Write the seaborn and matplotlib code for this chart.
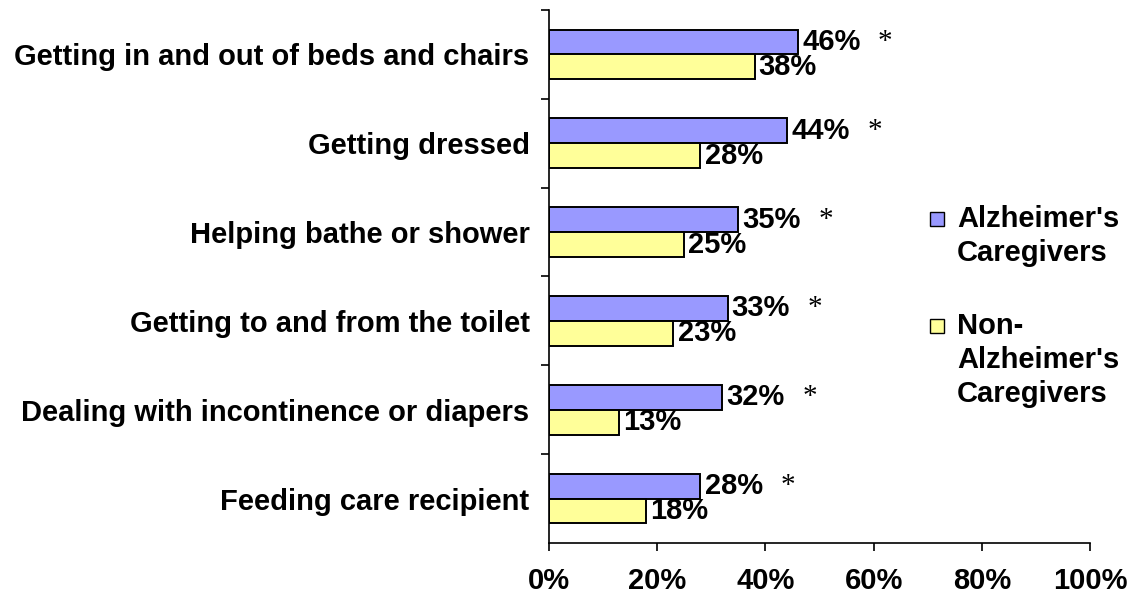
import pandas as pd
import seaborn as sns
import matplotlib.pyplot as plt
from matplotlib.ticker import FixedLocator
from matplotlib.patches import Rectangle

# Dados
tasks = ['Getting in and out of beds and chairs', 'Getting dressed',
         'Helping bathe or shower', 'Getting to and from the toilet',
         'Dealing with incontinence or diapers', 'Feeding care recipient']
alz = [46, 44, 35, 33, 32, 28]
non_alz = [38, 28, 25, 23, 13, 18]
groups = ["Alzheimer's\nCaregivers", "Non-\nAlzheimer's\nCaregivers"]
significant = [True, True, True, True, True, True]
x_ticks = [0, 20, 40, 60, 80, 100]

df = pd.DataFrame({
    'task': tasks * 2,
    'pct': alz + non_alz,
    'group': [groups[0]] * len(tasks) + [groups[1]] * len(tasks),
})

sns.set_style('white')
plt.rcParams['font.family'] = ['Liberation Sans', 'DejaVu Sans']
plt.rcParams['font.weight'] = 'bold'
for k in ['text.color', 'axes.labelcolor', 'xtick.color', 'ytick.color', 'axes.edgecolor']:
    plt.rcParams[k] = 'black'

W, H = 1132, 598
fig = plt.figure(figsize=(W / 100, H / 100), dpi=100)
ax = fig.add_axes([549 / W, 1 - 543 / H, 541 / W, 533 / H])

colors = ['#9999FF', '#FFFF99']
sns.barplot(data=df, y='task', x='pct', hue='group', orient='h',
            order=tasks, hue_order=groups, palette=colors,
            width=0.56, edgecolor='black', linewidth=1.4, saturation=1,
            legend=False, ax=ax)

fs = 21
for cont in ax.containers:
    ax.bar_label(cont, labels=[f'{v:.0f}%' for v in cont.datavalues],
                 padding=3, fontsize=fs, fontweight='bold')

# asteriscos de significância ao lado das barras de Alzheimer
for i, (v, sig) in enumerate(zip(alz, significant)):
    if sig:
        ax.annotate('*', xy=(v, i - 0.14), xytext=(63, 0), textcoords='offset points',
                    fontsize=fs, fontweight='normal', family='Liberation Serif',
                    ha='center', va='center')

ax.set_xlim(0, 100)
ax.set_ylim(len(tasks) - 0.5, -0.5)
ax.set_xticks(x_ticks)
ax.set_xticklabels([f'{t}%' for t in x_ticks], fontsize=fs, fontweight='bold')
ax.tick_params(axis='x', direction='out', length=6, width=1.2, bottom=True, pad=11)

ax.set_yticks(range(len(tasks)))
ax.set_yticklabels(tasks, fontsize=fs, fontweight='bold')
ax.tick_params(axis='y', which='major', length=0, pad=14)
ax.yaxis.set_minor_locator(FixedLocator([i - 0.5 for i in range(len(tasks))]))
ax.tick_params(axis='y', which='minor', direction='out', length=6, width=1.2, left=True)

ax.set_xlabel('')
ax.set_ylabel('')
for s in ['top', 'right']:
    ax.spines[s].set_visible(False)
for s in ['left', 'bottom']:
    ax.spines[s].set_linewidth(1.2)

# legenda manual: quadrado alinhado com a primeira linha do texto
starts = [219, 326]
pitch = 34
for color, label, y0 in zip(colors, groups, starts):
    fig.add_artist(Rectangle((930 / W, 1 - (y0 + 7) / H), 14 / W, 14 / H,
                             transform=fig.transFigure, facecolor=color,
                             edgecolor='black', linewidth=1))
    for k, line in enumerate(label.split('\n')):
        fig.text(957 / W, 1 - (y0 + k * pitch) / H, line, fontsize=fs,
                 fontweight='bold', ha='left', va='center')

fig.savefig('out.png', dpi=100)
